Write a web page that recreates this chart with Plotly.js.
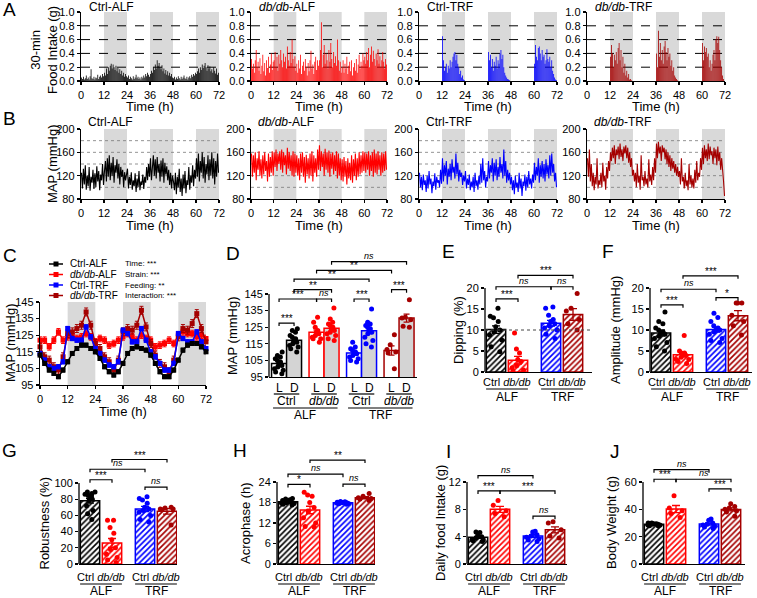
<!DOCTYPE html>
<html><head><meta charset="utf-8">
<script src="https://cdn.plot.ly/plotly-3.0.1.min.js"></script>
<style>html,body{margin:0;padding:0;background:#fff}#chart{width:757px;height:598px}</style>
</head><body><div id="chart"></div><script>
// ================= DATA =================
const timeTicks = [0,12,24,36,48,60,72];
const darkStarts = [12,36,60];
const darkLength = 12;
const foodTicks = [0,0.2,0.4,0.6,0.8,1.0];
const foodGuides = [0.2,0.4,0.6,0.8];
const mapTicks = [80,120,160,200];
const mapGuides = [100,120,140,160,180];

// A: 30-min food intake (g), 144 half-hour bins over 72 h
const food_CtrlALF = [
0.05,0.03,0.06,0.02,0.04,0.08,0.03,0.05,0.02,0.07,0.17,0.04,0.03,0.06,0.02,0.05,0.04,0.09,0.03,0.06,0.08,0.05,0.10,0.07,
0.12,0.08,0.18,0.10,0.20,0.15,0.22,0.25,0.18,0.24,0.20,0.16,0.22,0.14,0.19,0.12,0.17,0.10,0.15,0.08,0.12,0.06,0.10,0.07,
0.05,0.08,0.03,0.06,0.04,0.02,0.07,0.03,0.05,0.09,0.04,0.06,0.03,0.05,0.02,0.06,0.04,0.08,0.05,0.10,0.07,0.12,0.09,0.06,
0.10,0.15,0.12,0.20,0.16,0.24,0.18,0.30,0.22,0.26,0.20,0.17,0.23,0.14,0.18,0.11,0.16,0.09,0.14,0.08,0.12,0.07,0.10,0.05,
0.04,0.06,0.02,0.05,0.03,0.07,0.04,0.02,0.06,0.03,0.05,0.08,0.04,0.03,0.06,0.02,0.05,0.07,0.04,0.09,0.06,0.10,0.08,0.12,
0.10,0.14,0.18,0.12,0.20,0.16,0.24,0.19,0.22,0.26,0.20,0.15,0.23,0.18,0.21,0.14,0.17,0.12,0.20,0.15,0.11,0.18,0.09,0.12];
const food_dbALF = [
0.32,0.18,0.25,0.12,0.30,0.45,0.20,0.28,0.15,0.33,0.10,0.22,0.38,0.14,0.26,0.08,0.30,0.19,0.35,0.12,0.24,0.40,0.16,0.28,
0.30,0.42,0.20,0.35,0.15,0.38,0.25,0.45,0.30,0.20,0.40,0.28,0.35,0.18,0.50,0.30,0.22,0.42,0.26,0.60,0.32,0.20,0.36,0.15,
0.25,0.12,0.30,0.18,0.38,0.10,0.22,0.28,0.15,0.32,0.20,0.08,0.26,0.14,0.30,0.44,0.18,0.24,0.10,0.28,0.35,0.16,0.30,0.22,
0.30,0.45,0.85,0.20,0.38,0.52,0.25,0.40,0.30,0.18,0.45,0.28,0.55,0.32,0.20,0.42,0.26,0.36,0.22,0.60,0.30,0.15,0.28,0.12,
0.20,0.30,0.12,0.25,0.18,0.35,0.10,0.22,0.28,0.14,0.30,0.08,0.20,0.26,0.15,0.32,0.12,0.24,0.38,0.18,0.28,0.22,0.40,0.30,
0.35,0.25,0.42,0.30,0.48,0.20,0.38,0.50,0.28,0.44,0.32,0.22,0.40,0.30,0.46,0.25,0.36,0.20,0.30,0.42,0.28,0.18,0.32,0.24];
const food_CtrlTRF = [
0,0,0,0,0,0, 0,0,0,0,0,0, 0,0,0,0,0,0, 0,0,0,0,0,0,
0.65,0.30,0.15,0.20,0.25,0.12,0.22,0.18,0.30,0.20,0.28,0.35,0.40,0.42,0.30,0.38,0.25,0.20,0.10,0.15,0.05,0.08,0.02,0.01,
0,0,0,0,0,0, 0,0,0,0,0,0, 0,0,0,0,0,0, 0,0,0,0,0,0,
0.42,0.30,0.38,0.20,0.32,0.15,0.28,0.22,0.35,0.18,0.30,0.25,0.40,0.45,0.32,0.38,0.20,0.12,0.08,0.05,0.03,0.02,0.01,0,
0,0,0,0,0,0, 0,0,0,0,0,0, 0,0,0,0,0,0, 0,0,0,0,0,0,
0.25,0.52,0.35,0.30,0.48,0.50,0.40,0.30,0.45,0.35,0.38,0.25,0.30,0.46,0.32,0.28,0.35,0.20,0.30,0.15,0.10,0.05,0.02,0.01];
const food_dbTRF = [
0,0,0,0,0,0, 0,0,0,0,0,0, 0,0,0,0,0,0, 0,0,0,0,0,0,
0.35,0.52,0.40,0.20,0.38,0.30,0.42,0.25,0.48,0.55,0.30,0.45,0.20,0.35,0.12,0.25,0.08,0.15,0.05,0.10,0.02,0.03,0.01,0,
0,0,0,0,0,0, 0,0,0,0,0,0, 0,0,0,0,0,0, 0,0,0,0,0,0,
0.40,0.20,0.73,0.35,0.55,0.30,0.45,0.25,0.50,0.58,0.42,0.30,0.48,0.35,0.40,0.22,0.30,0.15,0.20,0.08,0.05,0.03,0.01,0,
0,0,0,0,0,0, 0,0,0,0,0,0, 0,0,0,0,0,0, 0,0,0,0,0,0,
0.55,0.30,0.50,0.42,0.48,0.35,0.40,0.20,0.30,0.15,0.25,0.38,0.45,0.30,0.60,0.65,0.55,0.64,0.45,0.30,0.20,0.08,0.03,0];

// B: MAP (mmHg) traces, half-hour samples over 72 h
const map_CtrlALF = [
125,98,132,105,138,96,120,102,135,94,118,108,130,97,124,100,136,110,128,95,122,112,140,104,
128,145,110,150,118,155,112,142,120,152,108,138,125,148,115,140,105,135,118,130,100,126,112,120,
132,98,118,104,126,96,112,102,124,92,115,100,128,95,110,104,122,97,118,108,135,112,140,118,
150,112,138,155,120,148,115,152,125,140,110,146,118,150,108,142,122,136,112,130,104,125,98,120,
110,95,125,88,118,100,132,92,115,85,122,98,128,90,112,104,135,96,120,108,138,102,130,115,
150,118,158,110,145,125,160,115,152,108,140,122,155,112,148,120,160,115,150,105,145,118,158,125];
const map_dbALF = [
158,118,155,125,160,112,150,130,162,120,148,115,155,122,160,128,145,110,158,118,152,125,162,120,
160,135,165,128,158,140,162,130,165,125,160,138,155,122,168,132,160,128,155,120,162,118,158,125,
155,120,150,112,158,125,160,118,152,108,156,122,150,115,158,120,162,110,155,125,150,118,165,130,
172,128,162,135,158,120,166,130,160,125,163,118,158,132,160,122,155,128,162,115,158,120,150,112,
148,110,152,118,145,105,150,115,142,112,155,108,148,120,158,112,150,118,160,122,155,125,162,128,
160,125,158,130,162,120,155,128,160,118,165,125,158,122,162,130,155,120,160,125,158,128,162,130];
const map_CtrlTRF = [
125,100,118,95,122,104,112,92,120,98,128,105,115,90,110,102,124,96,118,108,112,100,130,106,
150,110,138,120,145,105,132,118,140,112,148,125,135,115,158,122,142,110,130,118,125,104,120,110,
128,98,115,104,122,95,110,100,118,92,125,102,112,96,120,105,140,108,150,112,128,100,118,110,
145,115,138,125,150,110,142,120,148,112,135,118,152,125,140,115,165,120,145,108,130,112,125,105,
118,95,112,88,120,100,108,92,125,98,115,85,110,102,122,94,118,100,128,105,115,98,122,108,
142,112,135,120,150,108,138,118,145,115,140,110,148,122,138,115,155,120,158,125,140,110,125,100];
const map_dbTRF = [
150,118,165,110,140,102,125,95,118,105,150,98,112,104,125,100,142,110,120,96,135,115,145,128,
160,145,168,150,172,140,165,155,170,148,175,152,165,145,170,158,172,150,168,142,160,135,150,120,
130,110,125,100,140,108,120,96,155,112,118,102,128,105,115,100,148,110,122,104,135,112,150,125,
175,150,178,158,170,145,172,160,168,148,165,140,160,135,155,128,150,132,145,125,140,120,135,118,
128,105,150,110,118,98,125,102,112,95,140,105,120,100,115,98,130,108,145,112,125,118,150,130,
168,140,172,150,165,145,175,148,170,155,162,140,168,150,165,138,170,145,160,130,150,120,110,85];

// C: 2-h mean MAP (mmHg), 0..72 h
const c_CtrlALF = [113,108,104,102,100,104,109,114,117,119,119,117,115,111,106,103,101,103,108,114,117,118,117,116,113,108,103,100,100,104,110,116,119,120,120,118,115];
const c_dbALF   = [122,122,118,122,127,122,124,125,123,124,126,124,121,123,122,119,120,122,124,126,124,122,125,123,122,118,119,120,122,120,125,127,126,126,124,125,123];
const c_CtrlTRF = [114,110,106,105,106,109,129,123,122,122,130,124,117,114,110,107,106,109,128,126,121,121,129,122,115,112,108,104,104,108,126,123,121,121,127,121,117];
const c_dbTRF   = [118,112,110,106,104,112,126,127,129,131,139,131,120,117,112,109,104,110,127,129,128,131,140,130,120,113,108,106,103,110,124,129,128,132,138,129,121];
const c_sem     = [1.2, 2.0, 1.3, 2.4];
const cTicks = [95,105,115,125,135,145];
const cLegend = ['Ctrl-ALF','<i>db/db</i>-ALF','Ctrl-TRF','<i>db/db</i>-TRF'];
const cStats = ['Time: ***','Strain: ***','Feeding: **','Interaction: ***'];

// D: MAP light/dark (mmHg)
const d_CtrlALF_L = [110,108,107,106,105,104,103,102,101,100,99,98,97];
const d_CtrlALF_D = [124,123,122,120,119,118,117,116,115,114,113,112,110];
const d_dbALF_L   = [131,128,125,123,122,121,120,119,118,116,118];
const d_dbALF_D   = [136.5,130,128,127,126,125,124,123,122,121,120,118,117];
const d_CtrlTRF_L = [116,113,112,111,110,109,109,108,107,106,105,104];
const d_CtrlTRF_D = [136,128,127,126,125,124,123,122,121,119,117,115,113];
const d_dbTRF_L   = [120.5,114.5,111.5,109.5,110,100];
const d_dbTRF_D   = [141.5,130.5,129.5,125.5,125,131];
const dMean = [103.1,117.2,121.9,124.4,109.5,122.8,111,130.5];
const dSem  = [1.0,1.1,1.3,1.4,1.0,1.6,2.8,2.4];
const dTicks = [95,105,115,125,135,145];

// E: Dipping (%)
const dip_CtrlALF = [15.2,13.3,12.9,12,10.8,10,8.8,7.6,4.8,9.5,6.0];
const dip_dbALF   = [9.3,5.5,4.5,3.0,2.5,1.5,1.0,0.5,0.2,-0.3];
const dip_CtrlTRF = [15.5,15.2,13.5,12.5,12,11.5,11,10.5,10,9,8];
const dip_dbTRF   = [18.7,15.2,14.5,12.5,11.5,10];
const dipMean = [10.1,2.8,11.6,13.7];
const dipSem  = [0.9,0.9,0.7,1.4];
// F: Amplitude (mmHg)
const amp_CtrlALF = [14.3,11.5,10.5,10,9.5,9.2,9,8.5,8,7,6,5,12];
const amp_dbALF   = [8.7,5,4.5,4.5,4,4,3.5,3,3,2.5,2];
const amp_CtrlTRF = [14,13,12,11,10.5,10,10,9.5,9,8,7,7.5];
const amp_dbTRF   = [16.4,16.4,16.4,13.5,12,11,8.8];
const ampMean = [9.3,4.1,10.1,13.4];
const ampSem  = [0.7,0.5,0.6,1.2];
// G: Robustness (%)
const rob_CtrlALF = [89,89,87,86,85,84,83,80,78,72,66,62,55];
const rob_dbALF   = [54,54,45,38,30,20,18,12,8,5,2];
const rob_CtrlTRF = [83,81,79,75,70,68,66,64,60,55,52];
const rob_dbTRF   = [70,69,68,68,67,48];
const robMean = [78.2,26,68,65];
const robSem  = [3.0,5.5,3.2,3.4];
// H: Acrophase (h)
const acro_CtrlALF = [19.2,19,18.8,18.6,18.5,18.3,18.2,18,17.9,17.7,17.5,17.3,17.8];
const acro_dbALF   = [21,20.2,19.8,18,16.5,15.5,13.5,12,11,10.8];
const acro_CtrlTRF = [18.3,18.2,18.1,18,18,17.9,17.9,17.8,17.7,17.6,17.5,18.1];
const acro_dbTRF   = [20.6,19.8,19.4,19.2,19,18.6];
const acroMean = [18.2,15.8,17.9,19.4];
const acroSem  = [0.15,1.1,0.08,0.3];
// I: Daily food intake (g)
const fi_CtrlALF = [4.7,4.6,4.2,4.0,3.8,3.6,3.5,3.3,3.4];
const fi_dbALF   = [9.3,8.6,7.8,7.4,6.9];
const fi_CtrlTRF = [4.8,4.7,4.3,4.1,3.9,3.7,3.5,3.3];
const fi_dbTRF   = [6.2,6.0,5.0,4.1,3.8];
const fiMean = [3.9,8.0,4.1,5.0];
const fiSem  = [0.15,0.45,0.18,0.45];
// J: Body weight (g)
const bw_CtrlALF = [30,30,29.5,29,29,28.5,28.5,28,28,29.5];
const bw_dbALF   = [50,41,39,37,34];
const bw_CtrlTRF = [33,32,30,29,28.5,28,27,26];
const bw_dbTRF   = [44,42,41,40,39,38,35];
const bwMean = [29.1,40.2,29.2,39.9];
const bwSem  = [0.3,2.6,0.8,1.1];

// ================= DRAWING =================
const FONT = 'Liberation Sans, Arial, Helvetica, sans-serif';
const COLS = ['#000000','#ff0000','#0000ff','#a50000'];
const PW = 757, PH = 598;
const X = p => p / PW, Y = p => 1 - p / PH;
const sfx = n => n === 1 ? '' : String(n);

const layout = {width:PW, height:PH, margin:{l:0,r:0,t:0,b:0}, paper_bgcolor:'#fff', plot_bgcolor:'rgba(0,0,0,0)',
  showlegend:false, barmode:'overlay', boxmode:'overlay', font:{family:FONT, size:11, color:'#000'}, shapes:[], annotations:[]};
const data = [];
const shapes = layout.shapes, ann = layout.annotations;
const AX = {showline:true, linecolor:'#000', linewidth:1.3, ticks:'outside', ticklen:3, tickwidth:1.3, tickcolor:'#000',
  showgrid:false, zeroline:false, fixedrange:true, tickfont:{family:FONT, size:11, color:'#000'}};

function txt(x, y, t, opt) {
  opt = opt || {};
  const f = Object.assign({family:FONT, size:12, color:'#000'}, opt.font || {});
  const o = Object.assign({xref:'paper', yref:'paper', x:X(x), y:Y(y), text:t, showarrow:false, xanchor:'center', yanchor:'middle'}, opt);
  o.font = f; ann.push(o);
}

// ---------- time-series panels (A, B, C) ----------
const rowX = [[81,219],[251,387],[419,557],[587,725]];
const foodSeries = [food_CtrlALF, food_dbALF, food_CtrlTRF, food_dbTRF];
const mapSeries = [map_CtrlALF, map_dbALF, map_CtrlTRF, map_dbTRF];
const titles = ['Ctrl-ALF','<i>db/db</i>-ALF','Ctrl-TRF','<i>db/db</i>-TRF'];

function tsAxes(n, xpx, ypx, yopt) {
  const s = sfx(n);
  layout['xaxis'+s] = Object.assign({}, AX, {domain:[X(xpx[0]),X(xpx[1])], range:[0,72], tickvals:timeTicks, anchor:'y'+s});
  layout['yaxis'+s] = Object.assign({}, AX, {domain:[Y(ypx[1]),Y(ypx[0])], anchor:'x'+s}, yopt);
  darkStarts.forEach(d => shapes.push({type:'rect', xref:'x'+s, yref:'y'+s+' domain', x0:d, x1:d+darkLength, y0:0, y1:1,
    fillcolor:'#d9d9d9', line:{width:0}, layer:'below'}));
}

for (let i = 0; i < 4; i++) {
  // A
  const na = i + 1, sa = sfx(na);
  tsAxes(na, rowX[i], [12,81], {range:[0,1], tickvals:foodTicks, tickformat:'.1f'});
  foodGuides.forEach(g => shapes.push({type:'line', xref:'x'+sa+' domain', x0:0, x1:1, yref:'y'+sa, y0:g, y1:g,
    line:{color:'#000', width:1, dash:'dash'}, layer:'below'}));
  data.push({type:'bar', x0:0.25, dx:0.5, y:foodSeries[i], width:0.42, marker:{color:COLS[i], line:{width:0}},
    xaxis:'x'+sa, yaxis:'y'+sa, hoverinfo:'skip'});
  txt(rowX[i][0]+6, 7, titles[i], {xanchor:'left', font:{size:12}});
  txt((rowX[i][0]+rowX[i][1])/2, 106, 'Time (h)', {font:{size:13}});
  // B
  const nb = i + 5, sb = sfx(nb);
  tsAxes(nb, rowX[i], [129,199], {range:[80,200], tickvals:mapTicks});
  mapGuides.forEach(g => shapes.push({type:'line', xref:'x'+sb+' domain', x0:0, x1:1, yref:'y'+sb, y0:g, y1:g,
    line:{color:'#777', width:0.8, dash:'dot'}, layer:'below'}));
  data.push({type:'scatter', mode:'lines', x0:0.25, dx:0.5, y:mapSeries[i], line:{color:COLS[i], width:1.1},
    xaxis:'x'+sb, yaxis:'y'+sb, hoverinfo:'skip'});
  txt(rowX[i][0]+5, 122, titles[i], {xanchor:'left', font:{size:12}});
  txt((rowX[i][0]+rowX[i][1])/2, 225, 'Time (h)', {font:{size:13}});
}
txt(44, 50, '30-min<br>Food Intake (g)', {textangle:-90, font:{size:13}});
txt(52, 164, 'MAP (mmHg)', {textangle:-90, font:{size:13}});

// C
tsAxes(9, [40,206], [302,385], {range:[95,145], tickvals:cTicks});
const cSeries = [c_CtrlALF, c_dbALF, c_CtrlTRF, c_dbTRF];
[1,3,2,0].forEach(i => data.push({type:'scatter', mode:'lines+markers', x0:0, dx:2, y:cSeries[i],
  line:{color:COLS[i], width:1.5}, marker:{symbol:'square', size:5, color:COLS[i]},
  error_y:{type:'constant', value:c_sem[i], color:COLS[i], thickness:1, width:2},
  cliponaxis:false, xaxis:'x9', yaxis:'y9', hoverinfo:'skip'}));
txt(123, 411, 'Time (h)', {font:{size:13}});
txt(11, 343, 'MAP (mmHg)', {textangle:-90, font:{size:13}});
const legRows = [264,274.5,285,295.5];
for (let i = 0; i < 4; i++) {
  shapes.push({type:'line', xref:'paper', yref:'paper', x0:X(49), x1:X(63), y0:Y(legRows[i]), y1:Y(legRows[i]), line:{color:COLS[i], width:1.5}});
  shapes.push({type:'rect', xref:'paper', yref:'paper', x0:X(53.5), x1:X(58.5), y0:Y(legRows[i]+2.5), y1:Y(legRows[i]-2.5), fillcolor:COLS[i], line:{width:0}});
  txt(68, legRows[i], cLegend[i], {xanchor:'left', font:{size:10}});
  txt(123, legRows[i], cStats[i], {xanchor:'left', font:{size:8}});
}

// ---------- bar panels ----------
function bracket(s, x1, x2, y, label, ppu) {
  const d = 3 / ppu;
  shapes.push({type:'path', xref:'x'+s, yref:'y'+s,
    path:'M'+x1+','+(y-d)+' L'+x1+','+y+' L'+x2+','+y+' L'+x2+','+(y-d), line:{color:'#000', width:1.2}});
  const ns = label === 'ns';
  ann.push({xref:'x'+s, yref:'y'+s, x:(x1+x2)/2, y:y, text: ns ? '<i>ns</i>' : label, showarrow:false,
    xanchor:'center', yanchor:'bottom', yshift: ns ? -1 : -3, font:{family:FONT, size: ns ? 9 : 10, color:'#000'}});
}
function barAxes(cfg) {
  const s = sfx(cfg.n);
  layout['xaxis'+s] = Object.assign({}, AX, {domain:[X(cfg.xpx[0]),X(cfg.xpx[1])],
    range:[cfg.xmin, cfg.xmin + (cfg.xpx[1]-cfg.xpx[0])/cfg.unit], anchor:'y'+s, ticks:'', showticklabels:false});
  layout['yaxis'+s] = Object.assign({}, AX, {domain:[Y(cfg.ypx[1]),Y(cfg.ypx[0])],
    range:[cfg.ymin, cfg.ymin + (cfg.ypx[1]-cfg.ypx[0])/cfg.ppu], anchor:'x'+s, tickvals:cfg.ticks, showline:false});
  shapes.push({type:'line', xref:'x'+s+' domain', x0:0, x1:0, yref:'y'+s, y0:cfg.ymin, y1:cfg.ticks[cfg.ticks.length-1],
    line:{color:'#000', width:1.3}});
  return s;
}
function dots(s, pos, vals, col) {
  data.push({type:'box', x0:pos, y:vals, boxpoints:'all', jitter:0.9, pointpos:0, width:0.8,
    fillcolor:'rgba(0,0,0,0)', line:{color:'rgba(0,0,0,0)', width:0}, marker:{color:col, size:5, line:{width:0}},
    xaxis:'x'+s, yaxis:'y'+s, hoverinfo:'skip'});
}

// D
const dPos = [0,1,2.5,3.5,5,6,7.5,8.5];
const dDots = [d_CtrlALF_L,d_CtrlALF_D,d_dbALF_L,d_dbALF_D,d_CtrlTRF_L,d_CtrlTRF_D,d_dbTRF_L,d_dbTRF_D];
const dCfg = {n:10, xpx:[269,417], ypx:[250,377], xmin:-0.67, unit:15, ymin:95, ppu:1.66, ticks:dTicks};
const sD = barAxes(dCfg);
for (let g = 0; g < 4; g++) {
  data.push({type:'bar', x:[dPos[2*g], dPos[2*g+1]], y:[dMean[2*g], dMean[2*g+1]], width:1.0,
    marker:{color:['#ffffff','#d4d4d4'], line:{color:COLS[g], width:1.5}},
    error_y:{type:'data', array:[dSem[2*g], dSem[2*g+1]], color:COLS[g], thickness:1.3, width:3},
    xaxis:'x'+sD, yaxis:'y'+sD, hoverinfo:'skip'});
}
for (let k = 0; k < 8; k++) dots(sD, dPos[k], dDots[k], COLS[Math.floor(k/2)]);
[[0,1,127.5,'***'],[0,2,142,'***'],[2,3,142,'ns'],[1,3,147.6,'**'],[1,5,154,'**'],[2,6,159.2,'**'],[3,7,164.5,'ns'],[4,5,142,'***'],[6,7,147.6,'***']]
  .forEach(b => bracket(sD, dPos[b[0]], dPos[b[1]], b[2], b[3], dCfg.ppu));
for (let g = 0; g < 4; g++) {
  txt(0, 388, 'L', {xref:'x'+sD, x:dPos[2*g]});
  txt(0, 388, 'D', {xref:'x'+sD, x:dPos[2*g+1]});
  shapes.push({type:'line', xref:'x'+sD, yref:'paper', x0:dPos[2*g]-0.35, x1:dPos[2*g+1]+0.35, y0:Y(394), y1:Y(394), line:{color:'#000', width:1.2}});
  txt(0, 401, g % 2 === 0 ? 'Ctrl' : '<i>db/db</i>', {xref:'x'+sD, x:(dPos[2*g]+dPos[2*g+1])/2});
}
[[0,3,'ALF'],[4,7,'TRF']].forEach(p => {
  shapes.push({type:'line', xref:'x'+sD, yref:'paper', x0:dPos[p[0]]-0.4, x1:dPos[p[1]]+0.4, y0:Y(408), y1:Y(408), line:{color:'#000', width:1.2}});
  txt(0, 415, p[2], {xref:'x'+sD, x:(dPos[p[0]]+dPos[p[1]])/2});
});
txt(232, 336, 'MAP (mmHg)', {textangle:-90, font:{size:13}});

// E - J
const barPos = [0,1,2.5,3.5];
const panels = [
  {n:11, xpx:[485,592], ypx:[258,372], ppu:4.2, ticks:[0,5,10,15,20], mean:dipMean, sem:dipSem,
   dots:[dip_CtrlALF,dip_dbALF,dip_CtrlTRF,dip_dbTRF], title:'Dipping (%)', tx:458, rows:[382,389,397],
   br:[[0,1,17.4,'***'],[0,2,20.3,'ns'],[2,3,20.3,'ns'],[1,3,23,'***']], ref:10},
  {n:12, xpx:[650,752], ypx:[258,372], ppu:4.2, ticks:[0,5,10,15,20], mean:ampMean, sem:ampSem,
   dots:[amp_CtrlALF,amp_dbALF,amp_CtrlTRF,amp_dbTRF], title:'Amplitude (mmHg)', tx:615, rows:[382,389,397],
   br:[[0,1,16,'***'],[0,2,19.7,'ns'],[2,3,17.7,'*'],[1,3,22.9,'***']]},
  {n:13, xpx:[79,177], ypx:[448,564], ppu:0.81, ticks:[0,20,40,60,80,100], mean:robMean, sem:robSem,
   dots:[rob_CtrlALF,rob_dbALF,rob_CtrlTRF,rob_dbTRF], title:'Robustness (%)', tx:44, rows:[577,584,591],
   br:[[0,1,104,'***'],[0,2,117,'ns'],[2,3,95,'ns'],[1,3,129,'***']]},
  {n:14, xpx:[277,375], ypx:[448,564], ppu:3.417, ticks:[0,6,12,18,24], mean:acroMean, sem:acroSem,
   dots:[acro_CtrlALF,acro_dbALF,acro_CtrlTRF,acro_dbTRF], title:'Acrophase (h)', tx:246, rows:[577,584,591],
   br:[[0,1,23.3,'*'],[0,2,26.3,'ns'],[2,3,23.4,'ns'],[1,3,30.4,'**']]},
  {n:15, xpx:[467,567], ypx:[448,564], ppu:6.83, ticks:[0,4,8,12], mean:fiMean, sem:fiSem,
   dots:[fi_CtrlALF,fi_dbALF,fi_CtrlTRF,fi_dbTRF], title:'Daily food Intake (g)', tx:440, rows:[577,584,591],
   br:[[0,1,10.7,'***'],[0,2,12.95,'ns'],[1,3,10.7,'***'],[2,3,7.0,'ns']]},
  {n:16, xpx:[643,745], ypx:[448,564], ppu:1.367, ticks:[0,20,40,60], mean:bwMean, sem:bwSem,
   dots:[bw_CtrlALF,bw_dbALF,bw_CtrlTRF,bw_dbTRF], title:'Body Weight (g)', tx:612, rows:[577,584,591],
   br:[[0,1,62,'***'],[0,2,69,'ns'],[1,3,62,'ns'],[2,3,55,'***']]}
];
panels.forEach(p => {
  const s = barAxes(Object.assign({xmin:-0.5, unit:22, ymin:0}, p));
  for (let g = 0; g < 4; g++) {
    data.push({type:'bar', x:[barPos[g]], y:[p.mean[g]], width:0.88,
      marker:{color:'#ffffff', line:{color:COLS[g], width:1.5},
        pattern:{shape:'/', fgcolor:COLS[g], bgcolor:'#ffffff', size:4, solidity:0.42, fillmode:'replace'}},
      error_y:{type:'data', array:[p.sem[g]], color:COLS[g], thickness:1.3, width:4},
      xaxis:'x'+s, yaxis:'y'+s, hoverinfo:'skip'});
  }
  for (let g = 0; g < 4; g++) dots(s, barPos[g], p.dots[g], COLS[g]);
  p.br.forEach(b => bracket(s, barPos[b[0]], barPos[b[1]], b[2], b[3], p.ppu));
  if (p.ref !== undefined) shapes.push({type:'line', xref:'x'+s+' domain', x0:0, x1:1, yref:'y'+s, y0:p.ref, y1:p.ref,
    line:{color:'#444', width:1, dash:'dot'}});
  [[0,1,'ALF'],[2,3,'TRF']].forEach(q => {
    const mid = (barPos[q[0]]+barPos[q[1]])/2;
    txt(0, p.rows[0], 'Ctrl <i>db/db</i>', {xref:'x'+s, x:mid, font:{size:11}});
    shapes.push({type:'line', xref:'x'+s, yref:'paper', x0:barPos[q[0]]-0.45, x1:barPos[q[1]]+0.45,
      y0:Y(p.rows[1]), y1:Y(p.rows[1]), line:{color:'#000', width:1.2}});
    txt(0, p.rows[2], q[2], {xref:'x'+s, x:mid});
  });
  txt(p.tx, (p.ypx[1] + (p.ypx[1] - p.ticks[p.ticks.length-1]*p.ppu))/2, p.title, {textangle:-90, font:{size:13}});
});

// panel letters
[['A',9,10],['B',9,119],['C',10,255],['D',233,253],['E',448,252],['F',608,252],['G',9,450],['H',240,450],['I',448,451],['J',615,451]]
  .forEach(l => txt(l[1], l[2], l[0], {font:{size:19}}));

Plotly.newPlot('chart', data, layout, {staticPlot:true, displayModeBar:false});
</script></body></html>
